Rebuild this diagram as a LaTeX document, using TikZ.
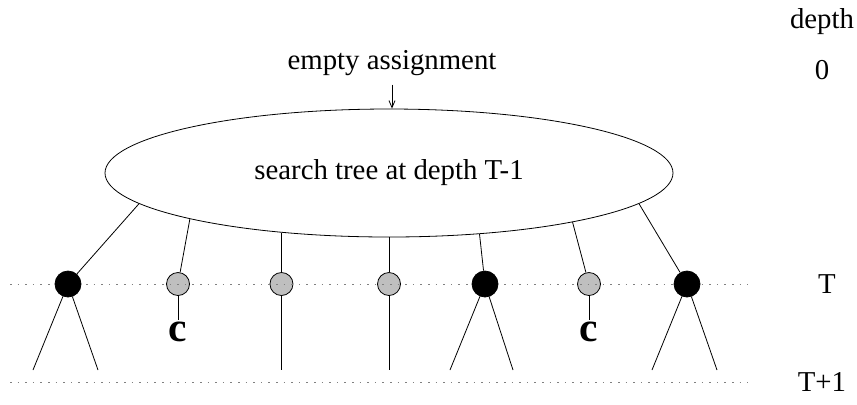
\documentclass[tikz,border=0pt]{standalone}
\usepackage{fontspec}
\setmainfont{Liberation Serif}
\usetikzlibrary{shapes.geometric,arrows.meta}

\begin{document}
\begin{tikzpicture}[x=.5pt,y=-.5pt,
  every node/.style={font=\fontsize{14.4pt}{17pt}\selectfont},
  blackdot/.style={circle,draw,fill=black,minimum size=13pt,inner sep=0pt},
  graydot/.style={circle,draw,fill=gray!50,minimum size=11.5pt,inner sep=0pt},
  levelline/.style={gray,dash pattern=on .8pt off 3pt},
  clab/.style={font=\fontsize{20.74pt}{24pt}\selectfont\bfseries,inner sep=1pt}]
  \useasboundingbox (0,0) rectangle (857,404);

  \node[ellipse,draw,minimum width=284pt,minimum height=64pt,inner sep=0pt] (tree) at (389,173) {search tree at depth T-1};
  \node (start) at (392,63) {empty assignment};
  \draw[-{Straight Barb[length=3.5pt,width=3pt]},shorten <=1pt] (start.south) -- (start.south |- tree.north);

  % depth T
  \node[graydot] (g1) at (178,284) {};
  \node[graydot] (g2) at (tree.209 |- 0,284) {};
  \node[graydot] (g3) at (tree.south |- 0,284) {};
  \node[graydot] (g4) at (589,284) {};

  \draw[levelline] (10,284) coordinate (l0) -- (748,284) coordinate (l1);
  \draw[levelline] (10,382) coordinate (m0) -- (748,382) coordinate (m1);

  \node[blackdot] (b1) at (68,284) {};
  \node[blackdot] (b2) at (485,284) {};
  \node[blackdot] (b3) at (687,284) {};

  \draw (tree.187) -- (b1);
  \draw (tree.193.5) -- (g1);
  \draw (tree.209) -- (g2);
  \draw (tree.south) -- (g3);
  \draw (tree.326.3) -- (b2);
  \draw (tree.345.7) -- (g4);
  \draw (tree.353.5) -- (b3);

  % depth T+1
  \coordinate (b1l) at (33,370);
  \coordinate (b1r) at (98,370);
  \coordinate (b2l) at (450,370);
  \coordinate (b2r) at (513,370);
  \coordinate (b3l) at (652,370);
  \coordinate (b3r) at (717,370);
  \coordinate (g2e) at (g2 |- 0,370);
  \coordinate (g3e) at (g3 |- 0,370);

  \draw (b1l) -- (b1) -- (b1r);
  \draw (b2l) -- (b2) -- (b2r);
  \draw (b3l) -- (b3) -- (b3r);
  \draw (g2) -- (g2e);
  \draw (g3) -- (g3e);

  \node[clab] (c1) at (178,332) {c};
  \node[clab] (c2) at (589,332) {c};
  \draw (g1) -- (c1);
  \draw (g4) -- (c2);

  % depth labels
  \node (dep) at (822,22) {depth};
  \node (d0) at (822,70) {0};
  \node (dT) at (827,284) {T};
  \node (dT1) at (822,382) {T+1};
\end{tikzpicture}
\end{document}
